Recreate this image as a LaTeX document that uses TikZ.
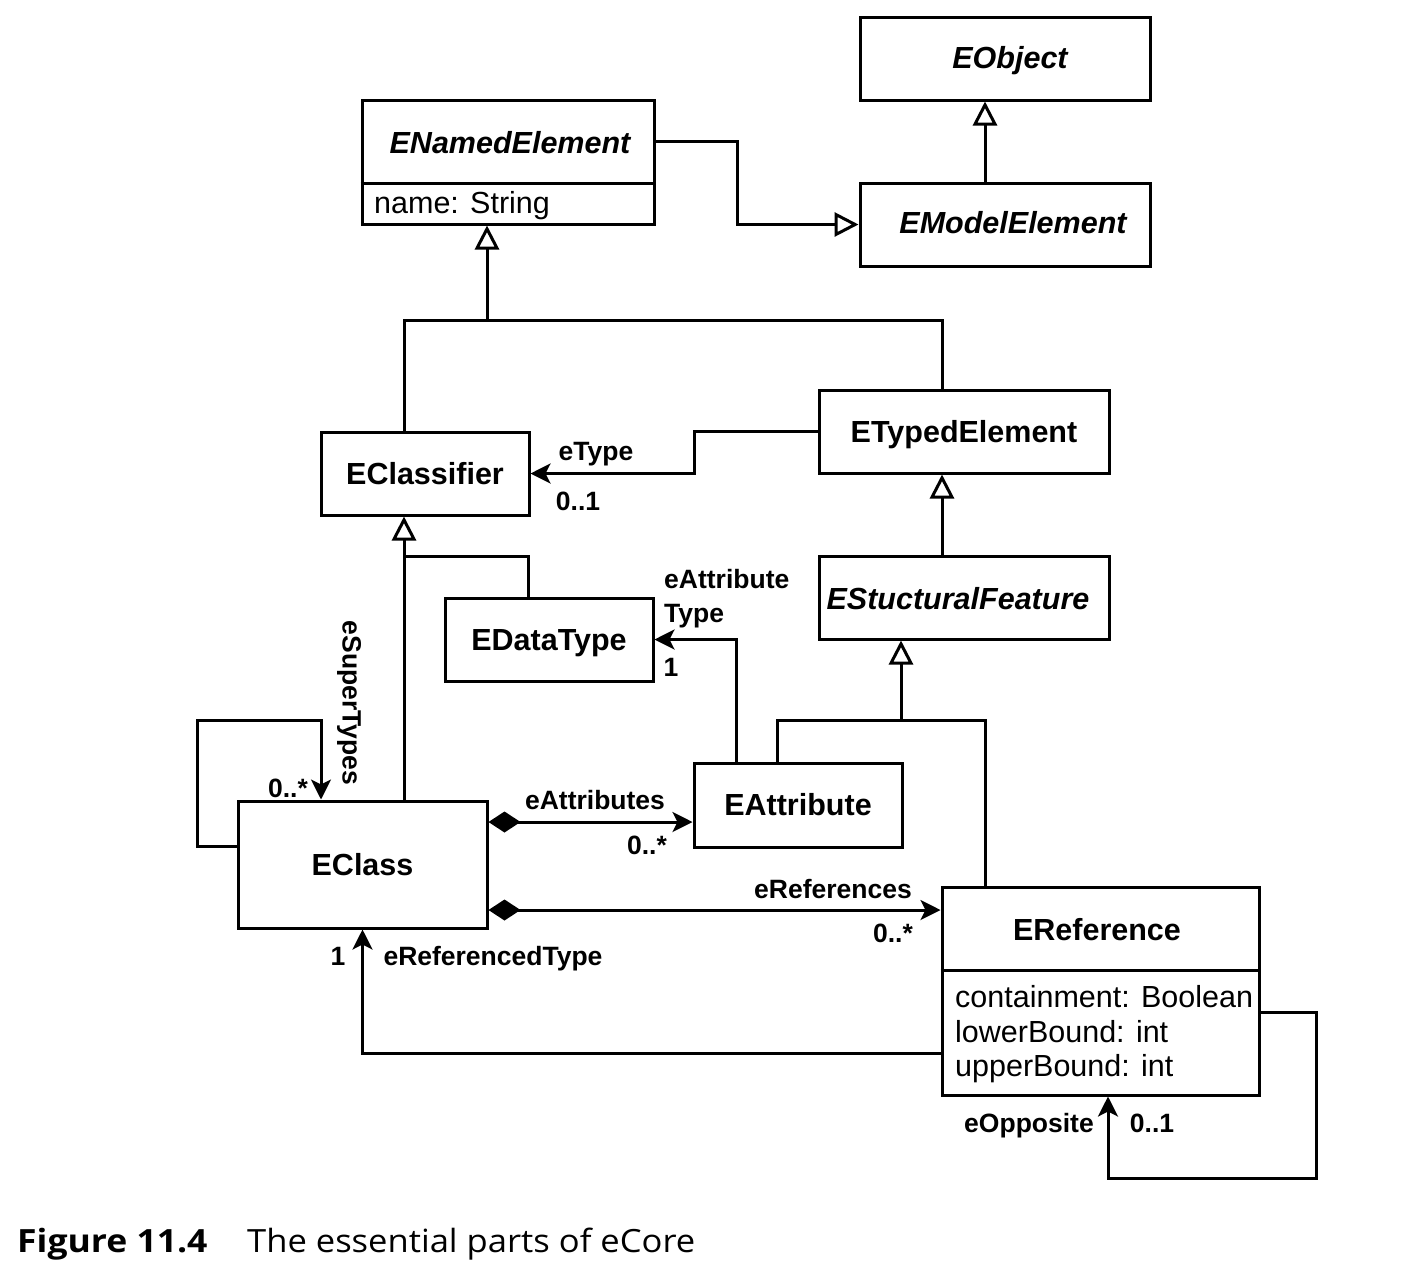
\documentclass[tikz,border=0pt]{standalone}
\usepackage{fontspec}
\setmainfont{Liberation Sans}
\newfontfamily\capfont{Open Sans}
\usetikzlibrary{arrows.meta}
\begin{document}
\begin{tikzpicture}[x=1pt,y=-1pt,
  box/.style={draw, line width=3pt, inner sep=0pt},
  ttl/.style={inner sep=0pt, text height=21.8pt, text depth=0pt,
    font=\fontsize{30.5}{36}\selectfont\bfseries},
  ttli/.style={ttl, font=\fontsize{30.5}{36}\selectfont\bfseries\itshape},
  attr/.style={inner sep=0pt, anchor=west, text height=21.8pt, text depth=0pt,
    font=\fontsize{30.5}{36}\selectfont},
  lbl/.style={inner sep=0pt, text height=19pt, text depth=0pt,
    font=\fontsize{26.5}{31}\selectfont\bfseries},
  line/.style={line width=3pt},
  gen/.style={line, -{Triangle[open, length=24pt, width=24pt, fill=white]}},
  assoc/.style={line, -{Stealth[length=20pt, width=20pt, inset=5pt]}},
  comp/.style={line, {Diamond[length=32pt, width=21pt]}-{Stealth[length=20pt, width=20pt, inset=5pt]}}
]
\useasboundingbox (0,0) rectangle (1428,1270);

% ---- boxes
\node[box, minimum width=290pt, minimum height=83pt] (eobj) at (1005,58.5) {};
\node[ttli] (teobj) at (1010,58) {EObject};

\node[box, minimum width=292pt, minimum height=124pt] (nel) at (508,162) {};
\node[ttli] (tnel) at (510,143) {ENamedElement};
\draw[line] (nel.west |- 0,183) -- (nel.east |- 0,183);
\node[attr] (anel) at (374,203) {name: String};

\node[box, minimum width=290pt, minimum height=83pt] (eme) at (1005,224.5) {};
\node[ttli] (teme) at (1013,223) {EModelElement};

\node[box, ttl, minimum width=208pt, minimum height=83pt] (ecl) at (425,473.5) {EClassifier};
\node[box, ttl, minimum width=290pt, minimum height=83pt] (ete) at (964,431.5) {ETypedElement};
\node[box, minimum width=290pt, minimum height=83pt] (esf) at (964,597.5) {};
\node[ttli] (tesf) at (958,599) {EStucturalFeature};
\node[box, ttl, minimum width=208pt, minimum height=83pt] (edt) at (549,639.5) {EDataType};
\node[box, ttl, minimum width=208pt, minimum height=84pt] (eat) at (798,805) {EAttribute};
\node[box, ttl, minimum width=249pt, minimum height=127pt] (ecls) at (362.5,864.5) {EClass};

\node[box, minimum width=317pt, minimum height=208pt] (eref) at (1100.5,991) {};
\node[ttl] (teref) at (1097,930) {EReference};
\draw[line] (eref.west |- 0,970) -- (eref.east |- 0,970);
\node[attr] (a1) at (955,997) {containment: Boolean};
\node[attr] (a2) at (955,1032) {lowerBound: int};
\node[attr] (a3) at (955,1066) {upperBound: int};

% ---- junctions
\coordinate (j1) at (487,320);
\coordinate (j2) at (404,556);
\coordinate (j3) at (901,720);

% ---- generalisations
\draw[gen] (nel.east |- 0,141) -- (737,141) |- (eme.west);
\draw[gen] ([xshift=-20pt]eme.north) -- ([xshift=-20pt]eobj.south);
\draw[line] ([xshift=-21pt]ecl.north) |- (j1) -| ([xshift=-22pt]ete.north);
\draw[gen] (j1) -- (j1 |- nel.south);
\draw[gen] ([xshift=-22pt]esf.north) -- ([xshift=-22pt]ete.south);
\draw[gen] (ecls.north -| j2) -- (j2 |- ecl.south);
\draw[line] (j2) -| ([xshift=-21pt]edt.north);
\draw[gen] (j3) -- (j3 |- esf.south);
\draw[line] ([xshift=-21pt]eat.north) |- (j3) -| ([xshift=-115.5pt]eref.north);

% ---- associations
\draw[assoc] (ete.west) -- (694,431.5) |- (ecl.east);
\draw[assoc] ([xshift=-62pt]eat.north) |- (edt.east);
\draw[assoc] (ecls.west |- 0,846) -- (197,846) -- (197,720) -| ([xshift=-41.5pt]ecls.north);
\draw[comp] (ecls.east |- 0,822) -- (eat.west |- 0,822);
\draw[comp] (ecls.east |- 0,910) -- (eref.west |- 0,910);
\draw[assoc] (eref.west |- 0,1053) -| (ecls.south);
\draw[assoc] (eref.east |- 0,1012) -| (1316,1178) -| ([xshift=7.5pt]eref.south);

% ---- labels
\node[lbl] (l1) at (596,451) {eType};
\node[lbl] (l2) at (578,501) {0..1};
\node[lbl, anchor=west] (l3a) at (664,579) {eAttribute};
\node[lbl, anchor=west] (l3b) at (664,613) {Type};
\node[lbl] (l4) at (671,667) {1};
\node[lbl, rotate=-90] (l5) at (352,703) {eSuperTypes};
\node[lbl] (l6) at (288,788) {0..*};
\node[lbl] (l7) at (595,800) {eAttributes};
\node[lbl] (l8) at (647,845) {0..*};
\node[lbl] (l9) at (833,889) {eReferences};
\node[lbl] (l10) at (893,933) {0..*};
\node[lbl] (l11) at (338,956) {1};
\node[lbl] (l12) at (493,956) {eReferencedType};
\node[lbl] (l13) at (1029,1123) {eOpposite};
\node[lbl] (l14) at (1152,1123) {0..1};

% ---- caption
\node[inner sep=0pt, anchor=base west, font=\capfont\fontsize{32}{36}\selectfont\bfseries] (capa) at (17,1252)
  {\scalebox{1.11}[1]{Figure 11.4}};
\node[inner sep=0pt, anchor=base west, font=\capfont\fontsize{32}{36}\selectfont] (capb) at (247,1252)
  {\scalebox{1.08}[1]{The essential parts of eCore}};
\end{tikzpicture}
\end{document}
